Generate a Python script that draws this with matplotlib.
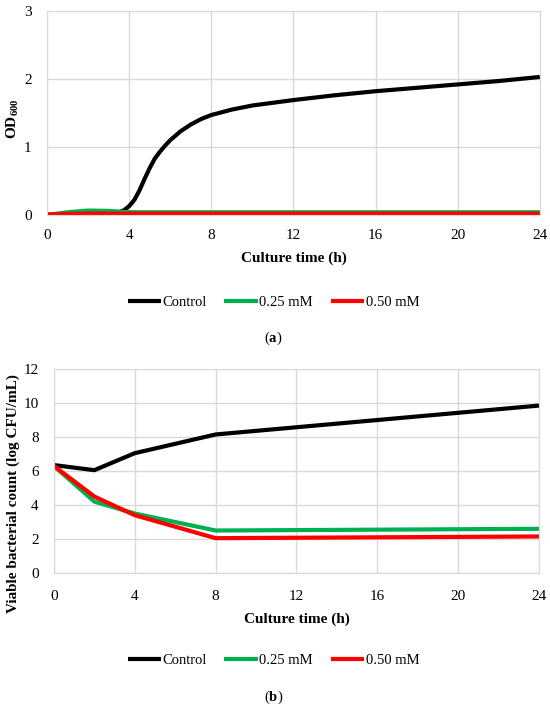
import matplotlib
matplotlib.use("Agg")
import matplotlib.pyplot as plt

plt.rcParams['font.family'] = ['Liberation Serif', 'DejaVu Serif']
plt.rcParams['mathtext.fontset'] = 'custom'
plt.rcParams['mathtext.rm'] = 'Liberation Serif'
plt.rcParams['mathtext.bf'] = 'Liberation Serif:bold'

# (a) OD600 growth curves
t_od = [0, 1, 2, 3, 3.5, 3.75, 4, 4.25, 4.5, 4.75, 5, 5.25, 5.5, 5.75, 6, 6.5, 7, 7.5, 8, 9, 10, 11, 12, 14, 16, 18, 20, 22, 24]
od_control = [0.0, 0.0, 0.0, 0.02, 0.04, 0.07, 0.13, 0.22, 0.36, 0.53, 0.69, 0.83, 0.93, 1.02, 1.1, 1.23, 1.33, 1.41, 1.47, 1.55, 1.61, 1.65, 1.69, 1.76, 1.82, 1.87, 1.92, 1.97, 2.03]
od_025 = [0.0, 0.04, 0.065, 0.06, 0.05, 0.045, 0.042, 0.04, 0.04, 0.04, 0.04, 0.04, 0.04, 0.04, 0.04, 0.04, 0.04, 0.04, 0.04, 0.04, 0.04, 0.04, 0.04, 0.04, 0.04, 0.04, 0.04, 0.04, 0.04]
od_050 = [0.01, 0.015, 0.02, 0.02, 0.02, 0.02, 0.02, 0.02, 0.02, 0.02, 0.02, 0.02, 0.02, 0.02, 0.02, 0.02, 0.02, 0.02, 0.02, 0.02, 0.02, 0.02, 0.02, 0.02, 0.02, 0.02, 0.02, 0.02, 0.02]

# (b) viable counts
t_cfu = [0, 2, 4, 8, 24]
cfu_control = [6.35, 6.05, 7.05, 8.15, 9.85]
cfu_025 = [6.3, 4.2, 3.5, 2.5, 2.6]
cfu_050 = [6.3, 4.5, 3.4, 2.05, 2.15]

labels = ['Control', '0.25 mM', '0.50 mM']
colors = ['#000000', '#00B050', '#FF0000']
xticks = [0, 4, 8, 12, 16, 20, 24]

fig = plt.figure(figsize=(5.5, 7.09), dpi=100)
ax1 = fig.add_axes([0.0855, 0.6968, 0.896, 0.2877])
ax2 = fig.add_axes([0.098, 0.1918, 0.882, 0.2877])


def style(ax, ymax, ystep, xpad):
    ax.set_xlim(0, 24)
    ax.set_ylim(0, ymax)
    ax.set_xticks(xticks)
    ax.set_yticks(range(0, ymax + 1, ystep))
    ax.grid(True, color='#d9d9d9', linewidth=1)
    ax.set_axisbelow(True)
    for s in ax.spines.values():
        s.set_color('#d9d9d9')
    ax.tick_params(length=0, labelsize=11)
    ax.tick_params(axis='x', pad=xpad)
    ax.tick_params(axis='y', pad=11)
    ax.set_xlabel('Culture time (h)', fontsize=11, fontweight='bold', labelpad=7)


for y, c, lab in zip([od_control, od_025, od_050], colors, labels):
    ax1.plot(t_od, y, color=c, lw=3, label=lab, solid_capstyle='butt')
style(ax1, 3, 1, 10)
ax1.set_ylabel(r'OD$_{\mathbf{600}}$', fontsize=11, fontweight='bold')
ax1.yaxis.set_label_coords(-0.052, 0.47)

for y, c, lab in zip([cfu_control, cfu_025, cfu_050], colors, labels):
    ax2.plot(t_cfu, y, color=c, lw=3, label=lab, solid_capstyle='butt')
style(ax2, 12, 2, 12)
ax2.set_ylabel('Viable bacterial count (log CFU/mL)', fontsize=11, fontweight='bold')
ax2.yaxis.set_label_coords(-0.07, 0.39)

for ax, ly, tag, ty in [(ax1, 0.574, r'($\mathbf{a}$)', 0.523), (ax2, 0.069, r'($\mathbf{b}$)', 0.017)]:
    h, l = ax.get_legend_handles_labels()
    fig.legend(h, l, loc='center', bbox_to_anchor=(0.497, ly), ncol=3, frameon=False,
               fontsize=10.5, handlelength=2.3, handletextpad=0.1, columnspacing=1.2)
    fig.text(0.497, ty, tag, ha='center', va='center', fontsize=10.5)

fig.savefig('out.png', dpi=100)
